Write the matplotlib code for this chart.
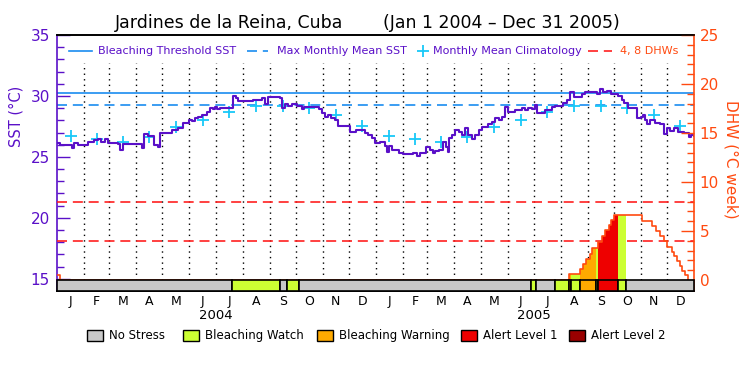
import numpy as np
import matplotlib
matplotlib.use('Agg')
import matplotlib.pyplot as plt
from matplotlib.patches import Rectangle
from matplotlib.lines import Line2D
from matplotlib.ticker import FixedLocator

plt.rcParams['ytick.direction'] = 'in'
plt.rcParams['xtick.direction'] = 'in'

# ---------------- data (days since Jan 1 2004) ----------------
sst_day = [0, 3, 17, 20, 24, 30, 36, 42, 47, 51, 55, 59, 64, 70, 72, 76, 97, 98, 100, 105,
           111, 116, 118, 124, 132, 139, 145, 151, 155, 158, 162, 166, 172, 176, 179, 181,
           184, 187, 198, 202.5, 205, 208, 220, 225, 231, 235, 239, 242, 246, 254, 256, 258,
           262, 265.5, 270, 275, 279, 281.6, 284, 298, 301, 304, 307.7, 311, 315, 319, 323,
           332.6, 336.4, 343, 350, 353.6, 357, 361, 365, 371, 376.6, 378.5, 381, 384, 388,
           392, 397, 403, 408, 413, 417, 422.5, 424, 428, 432, 434, 437.8, 443.5, 446, 448.5,
           450, 453, 457, 461, 464.6, 468, 472, 476, 480, 484, 487.6, 495, 499, 503, 507,
           510.6, 514, 518, 526, 533.5, 537, 541, 545, 548, 550.7, 554.5, 560, 568, 572,
           577.5, 581, 585, 589, 592.8, 598, 602, 606, 617.7, 620, 623.4, 627, 631, 636,
           640.6, 644, 648, 651, 655, 665, 666, 670, 673, 675, 677, 681, 686.6, 692, 696,
           700, 704, 707.6, 713, 719, 725, 728, 731]
sst_val = [26.1, 26.0, 25.7, 26.1, 26.0, 26.0, 26.2, 26.4, 26.5, 26.2, 26.5, 26.1, 26.1, 26.05,
           25.6, 26.05, 26.0, 25.7, 26.85, 26.7, 26.0, 25.8, 26.95, 27.0, 27.2, 27.35, 27.75,
           28.0, 27.95, 28.2, 28.3, 28.45, 28.7, 29.05, 28.9, 29.1, 28.9, 29.05, 29.05, 30.03,
           29.8, 29.62, 29.62, 29.65, 29.65, 29.85, 29.3, 29.9, 29.95, 29.95, 29.8, 29.04,
           29.3, 29.2, 29.3, 29.2, 29.2, 28.9, 29.12, 29.12, 28.9, 28.58, 28.3, 28.4, 28.2,
           28.03, 27.57, 27.5, 27.08, 27.2, 27.2, 26.94, 26.8, 26.53, 26.12, 26.2, 25.9,
           25.43, 25.9, 25.6, 25.55, 25.3, 25.2, 25.2, 25.3, 25.1, 25.3, 25.3, 25.8, 25.55,
           25.3, 25.45, 25.55, 26.2, 25.8, 25.43, 26.53, 26.8, 27.2, 27.05, 26.8, 27.35, 26.8,
           26.5, 26.8, 27.2, 27.49, 27.7, 27.9, 28.17, 28.03, 28.3, 29.12, 28.7, 28.85, 28.98,
           28.85, 29.05, 28.9, 29.26, 28.6, 28.58, 28.85, 29.12, 29.2, 29.2, 29.4, 29.67,
           30.35, 29.9, 29.9, 30.2, 30.3, 30.3, 30.2, 30.57, 30.35, 30.4, 30.2, 30.2, 30.0,
           29.67, 29.4, 29.04, 29.04, 28.17, 28.3, 28.4, 28.03, 27.7, 28.0, 27.8, 27.7, 26.86,
           27.35, 27.13, 27.35, 27.08, 26.94, 26.67, 26.8, 26.75]

clim_month_val = [26.7, 26.45, 26.2, 26.6, 27.45, 28.0, 28.65, 29.15, 29.2, 29.0, 28.4, 27.5]
mmm_sst = 29.22
threshold_sst = 30.22
dhw_levels = [4, 8]

dhw_day = [0, 3, 587.1, 599.7, 603.5, 607.3, 611.2, 614.2, 620.3, 625.3, 629.2, 633, 636,
           639.5, 671.3, 682.7, 687.7, 692.3, 696.1, 700, 705.7, 708.4, 711.4, 714.5, 717.6,
           721, 723.7]
dhw_val = [0.5, 0, 0.58, 1.09, 1.63, 2.14, 2.65, 3.23, 3.91, 4.49, 5.1, 5.61, 6.12, 6.63,
           6.02, 5.51, 5.03, 4.49, 3.98, 3.4, 2.89, 2.45, 1.97, 1.43, 0.92, 0.51, 0]

stress_bounds = [0, 201.3, 256, 264.4, 278.2, 544.2, 549.6, 572, 587, 590.1, 599.7, 618.5,
                 620.3, 643.3, 653, 731]
stress_level = [0, 1, 0, 1, 0, 1, 0, 1, 2, 1, 2, 1, 3, 1, 0]
stress_colors = ['#c8c8c8', '#ccff33', '#ffaa00', '#ee0000', '#990000']
stress_names = ['No Stress', 'Bleaching Watch', 'Bleaching Warning', 'Alert Level 1', 'Alert Level 2']

month_letters = ['J', 'F', 'M', 'A', 'M', 'J', 'J', 'A', 'S', 'O', 'N', 'D']
year_labels = ['2004', '2005']

# ---------------- styling ----------------
PURPLE = '#5a10c8'
BLUE = '#1a8cf0'
CYAN = '#18c8f8'
RED = '#ff2020'
ORANGE = '#ff4a10'
W, H = 750, 375


def fx(px):
    return px / W


def fy(py):
    return 1 - py / H


fig = plt.figure(figsize=(7.5, 3.75), dpi=100)
ax = fig.add_axes([fx(57), fy(291), (694 - 57) / W, (291 - 35) / H])
ax.set_xlim(0, 731)
ax.set_ylim(14.0, 35.0)
ax2 = ax.twinx()
ax2.set_ylim(-1.12, 25)

# month geometry
months = np.arange('2004-01', '2006-02', dtype='datetime64[M]')
mstart = (months.astype('datetime64[D]') - np.datetime64('2004-01-01')).astype(int)
mmid = (mstart[:-1] + mstart[1:]) / 2.0

# dotted month separators
for d in mstart[1:-1]:
    ax.plot([d, d], [14.92, 32.7], color='k', lw=1.0, ls=(0, (1, 3)), zorder=1)

# reference lines
ax.axhline(threshold_sst, color=BLUE, lw=1.2, zorder=2)
ax.axhline(mmm_sst, color=BLUE, lw=1.2, ls=(0, (6, 3.5)), zorder=2)
for lv in dhw_levels:
    ax2.axhline(lv, color=RED, lw=1.2, ls=(0, (6, 3.5)), zorder=2)

# climatology markers
clim_x = list(mmid)
clim_y = clim_month_val + clim_month_val
ax.plot(clim_x, clim_y, ls='none', marker='+', ms=9, mew=1.3, color=CYAN, zorder=3)

# SST line
ax.plot(sst_day, sst_val, drawstyle='steps-post', color=PURPLE, lw=1.5, zorder=4)

# DHW fills by stress level
dd = np.array(dhw_day)
dv = np.array(dhw_val)
for i, lvl in enumerate(stress_level):
    if lvl == 0:
        continue
    b0, b1 = stress_bounds[i], stress_bounds[i + 1]
    xs = [b0] + [d for d in dhw_day if b0 < d < b1] + [b1]
    idx = np.searchsorted(dd, xs, side='right') - 1
    ys = dv[np.clip(idx, 0, None)]
    ax2.fill_between(xs, 0, ys, step='post', color=stress_colors[lvl], lw=0, zorder=2.5)

# DHW line
ax2.plot(dhw_day, dhw_val, drawstyle='steps-post', color=ORANGE, lw=1.2, zorder=3)

# stress bar
for i, lvl in enumerate(stress_level):
    b0, b1 = stress_bounds[i], stress_bounds[i + 1]
    ax2.add_patch(Rectangle((b0, -1.12), b1 - b0, 1.12, facecolor=stress_colors[lvl],
                            edgecolor='k', lw=1.2, zorder=5, clip_on=False))

# axes styling
ax.yaxis.set_major_locator(FixedLocator([15, 20, 25, 30, 35]))
ax.yaxis.set_minor_locator(FixedLocator(list(range(15, 36))))
ax.tick_params(axis='y', which='major', direction='in', colors=PURPLE, width=1,
               length=9.5, labelsize=11, pad=5)
ax.tick_params(axis='y', which='minor', direction='in', colors=PURPLE, width=1, length=5)
ax2.yaxis.set_major_locator(FixedLocator([0, 5, 10, 15, 20, 25]))
ax2.yaxis.set_minor_locator(FixedLocator(list(range(0, 26))))
ax2.tick_params(axis='y', which='major', direction='in', colors=ORANGE, width=1,
                length=9.5, labelsize=11, pad=4)
ax2.tick_params(axis='y', which='minor', direction='in', colors=ORANGE, width=1, length=5)

ax.set_xticks(mmid)
ax.set_xticklabels(month_letters * 2)
ax.tick_params(axis='x', length=0, labelsize=9, pad=3)

ax.spines['left'].set_color(PURPLE)
ax.spines['right'].set_visible(False)
ax2.spines['left'].set_visible(False)
ax2.spines['right'].set_color(ORANGE)
for a in (ax, ax2):
    a.spines['top'].set_linewidth(1.2)
    a.spines['bottom'].set_linewidth(1.2)
ax2.spines['right'].set_linewidth(1.2)
ax.spines['left'].set_linewidth(1.2)

# year labels
for j, yl in enumerate(year_labels):
    ax.text(mstart[12 * j + 6], -0.094, yl, transform=ax.get_xaxis_transform(),
            ha='center', va='center', fontsize=9.5)

# axis labels
fig.text(fx(16), fy(116), 'SST (°C)', rotation=90, color=PURPLE, fontsize=10.5,
         ha='center', va='center')
fig.text(fx(731), fy(159), 'DHW (°C week)', rotation=-90, color=ORANGE, fontsize=11,
         ha='center', va='center')

# title
fig.text(fx(115), fy(23), 'Jardines de la Reina, Cuba', fontsize=12.5, ha='left', va='center')
fig.text(fx(383), fy(23), '(Jan 1 2004 – Dec 31 2005)', fontsize=12.5, ha='left', va='center')

# top legend
ly = fy(51)
fig.add_artist(Line2D([fx(69), fx(92)], [ly, ly], color=BLUE, lw=1.2))
fig.text(fx(98), ly, 'Bleaching Threshold SST', color=PURPLE, fontsize=8, va='center')
fig.add_artist(Line2D([fx(247), fx(268)], [ly, ly], color=BLUE, lw=1.2, ls=(0, (6, 3.5))))
fig.text(fx(277), ly, 'Max Monthly Mean SST', color=PURPLE, fontsize=8, va='center')
fig.add_artist(Line2D([fx(422.7)], [ly], ls='none', marker='+', ms=9, mew=1.3, color=CYAN))
fig.text(fx(433), ly, 'Monthly Mean Climatology', color=PURPLE, fontsize=8, va='center')
fig.add_artist(Line2D([fx(588), fx(612)], [ly, ly], color=RED, lw=1.2, ls=(0, (6, 3.5))))
fig.text(fx(620), ly, '4, 8 DHWs', color=ORANGE, fontsize=8, va='center')

# bottom legend
box_x = [87, 183, 317, 461, 569]
for bx, c, name in zip(box_x, stress_colors, stress_names):
    fig.add_artist(Rectangle((fx(bx), fy(341)), 16 / W, 11 / H, facecolor=c,
                             edgecolor='k', lw=1.0, transform=fig.transFigure))
    fig.text(fx(bx + 22), fy(335.5), name, fontsize=8.5, va='center', ha='left')

fig.savefig('out.png', dpi=100)
